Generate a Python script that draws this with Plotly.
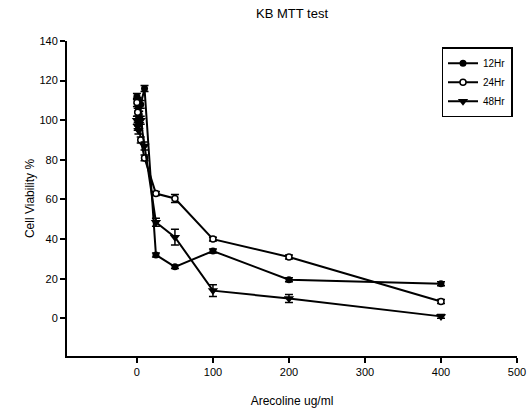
import plotly.graph_objects as go

conc = [0, 1, 2, 3, 5, 10, 25, 50, 100, 200, 400]
hr12 = [112, 110, 106, 103, 108, 116, 32, 26, 34, 19.5, 17.5]
hr12_err = [1.5, 1.5, 1.5, 1.5, 2, 1.5, 1, 0.8, 1, 1, 1]
hr24 = [109, 104, 100, 97, 90, 81, 63, 60.5, 40, 31, 8.5]
hr24_err = [2, 2, 2, 2, 1.5, 1.5, 1, 2, 1, 1, 1]
hr48 = [100, 97, 95, 98, 100, 87, 48.5, 41, 14, 10, 1]
hr48_err = [2, 2, 2, 2, 2, 2, 2, 4, 3, 2, 1]

series = [
    ("12Hr", hr12, hr12_err, dict(symbol="circle", color="black", size=7)),
    ("24Hr", hr24, hr24_err, dict(symbol="circle", color="white", size=6, line=dict(color="black", width=1.5))),
    ("48Hr", hr48, hr48_err, dict(symbol="triangle-down", color="black", size=9)),
]

fig = go.Figure()
for name, ys, err, mk in series:
    fig.add_trace(go.Scatter(
        x=conc, y=ys, name=name, mode="lines+markers",
        line=dict(color="black", width=2),
        marker=mk,
        error_y=dict(type="data", array=err, color="black", thickness=1.5, width=4),
    ))

fig.update_layout(
    width=530, height=415,
    margin=dict(l=67, r=13, t=41, b=59, autoexpand=False),
    paper_bgcolor="white", plot_bgcolor="white",
    font=dict(family="Liberation Sans, Arial, sans-serif", size=11, color="black"),
    title=dict(text="KB MTT test", x=0.551, xanchor="center", y=0.968, yanchor="middle",
               font=dict(size=13)),
    showlegend=True,
    legend=dict(x=0.99, xanchor="right", y=0.98, yanchor="top",
                bordercolor="black", borderwidth=1.5, bgcolor="white",
                font=dict(size=10), tracegroupgap=0, itemwidth=30,
                entrywidth=0),
    xaxis=dict(range=[-92, 500], tickvals=[0, 100, 200, 300, 400, 500], automargin=False,
               showline=True, linecolor="black", linewidth=2, ticks="outside",
               ticklen=5, tickwidth=1.5, tickcolor="black", showgrid=False, zeroline=False,
               title=dict(text="Arecoline ug/ml", font=dict(size=12), standoff=19)),
    yaxis=dict(range=[-19, 140], tickvals=[0, 20, 40, 60, 80, 100, 120, 140], automargin=False,
               showline=True, linecolor="black", linewidth=2, ticks="outside",
               ticklen=5, tickwidth=1.5, tickcolor="black", showgrid=False, zeroline=False,
               title=dict(text="Cell Viability %", font=dict(size=12), standoff=2)),
)

fig.write_html("out.html")
